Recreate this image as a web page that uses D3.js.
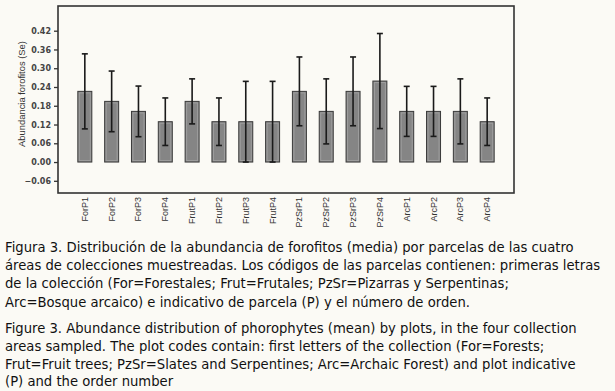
<!DOCTYPE html>
<html>
<head>
<meta charset="utf-8">
<script src="https://cdn.jsdelivr.net/npm/d3@7"></script>
<style>
  html, body { margin: 0; padding: 0; background: #fbfaf5; }
  svg { display: block; }
</style>
</head>
<body>
<svg id="chart" width="615" height="391"></svg>
<script>
// Plot codes along the x axis
const plots = ["ForP1", "ForP2", "ForP3", "ForP4",
               "FrutP1", "FrutP2", "FrutP3", "FrutP4",
               "PzSrP1", "PzSrP2", "PzSrP3", "PzSrP4",
               "ArcP1", "ArcP2", "ArcP3", "ArcP4"];
// mean abundance per plot
const means = [0.226, 0.194, 0.162, 0.129,
               0.194, 0.129, 0.129, 0.129,
               0.226, 0.162, 0.226, 0.259,
               0.162, 0.162, 0.162, 0.129];
// error bar half-length (Se)
const se = [0.120, 0.097, 0.081, 0.076,
            0.072, 0.076, 0.129, 0.129,
            0.110, 0.104, 0.110, 0.152,
            0.080, 0.080, 0.104, 0.076];
const yTicks = [-0.06, 0, 0.06, 0.12, 0.18, 0.24, 0.30, 0.36, 0.42];

const captionEs = [
  "Figura 3. Distribución de la abundancia de forofitos (media) por parcelas de las cuatro",
  "áreas de colecciones muestreadas. Los códigos de las parcelas contienen: primeras letras",
  "de la colección (For=Forestales; Frut=Frutales; PzSr=Pizarras y Serpentinas;",
  "Arc=Bosque arcaico) e indicativo de parcela (P) y el número de orden."
];
const captionEn = [
  "Figure 3. Abundance distribution of phorophytes (mean) by plots, in the four collection",
  "areas sampled. The plot codes contain: first letters of the collection (For=Forests;",
  "Frut=Fruit trees; PzSr=Slates and Serpentines; Arc=Archaic Forest) and plot indicative",
  "(P) and the order number"
];

const svg = d3.select("#chart");
const box = {left: 58, top: 6, right: 514, bottom: 193};

const x = d3.scalePoint()
    .domain(plots)
    .range([box.left, box.right])
    .padding(1);
const y = d3.scaleLinear()
    .domain([-0.099, 0.499])
    .range([box.bottom, box.top]);

const barW = 14;
const data = plots.map((p, i) => ({plot: p, mean: means[i], se: se[i]}));

// bars
const bars = svg.append("g").selectAll("g")
    .data(data)
    .enter().append("g");

bars.append("rect")
    .attr("x", d => x(d.plot) - barW / 2)
    .attr("y", d => y(d.mean))
    .attr("width", barW)
    .attr("height", d => y(0) - y(d.mean))
    .attr("fill", "#858585")
    .attr("stroke", "#3a3a3a")
    .attr("stroke-width", 1);

// light inner edge
bars.append("rect")
    .attr("x", d => x(d.plot) - barW / 2 + 1.5)
    .attr("y", d => y(d.mean) + 1.5)
    .attr("width", barW - 3)
    .attr("height", d => y(0) - y(d.mean) - 3)
    .attr("fill", "none")
    .attr("stroke", "#9e9e9e")
    .attr("stroke-width", 1);

// error bars
const err = svg.append("g")
    .attr("stroke", "#1a1a1a")
    .attr("stroke-width", 1.6);
err.selectAll(".stem")
    .data(data)
    .enter().append("line")
    .attr("x1", d => x(d.plot)).attr("x2", d => x(d.plot))
    .attr("y1", d => y(d.mean + d.se))
    .attr("y2", d => y(Math.max(0, d.mean - d.se)));
err.selectAll(".capT")
    .data(data)
    .enter().append("line")
    .attr("x1", d => x(d.plot) - 3).attr("x2", d => x(d.plot) + 3)
    .attr("y1", d => y(d.mean + d.se)).attr("y2", d => y(d.mean + d.se));
err.selectAll(".capB")
    .data(data)
    .enter().append("line")
    .attr("x1", d => x(d.plot) - 3).attr("x2", d => x(d.plot) + 3)
    .attr("y1", d => y(Math.max(0, d.mean - d.se)))
    .attr("y2", d => y(Math.max(0, d.mean - d.se)));

// frame
svg.append("rect")
    .attr("x", box.left).attr("y", box.top)
    .attr("width", box.right - box.left)
    .attr("height", box.bottom - box.top)
    .attr("fill", "none")
    .attr("stroke", "#333")
    .attr("stroke-width", 1.6);

// y axis
const yAxis = svg.append("g")
    .attr("transform", `translate(${box.left},0)`)
    .call(d3.axisLeft(y).tickValues(yTicks).tickSize(4).tickPadding(3)
        .tickFormat(d3.format(".2f")));
yAxis.select(".domain").remove();
yAxis.selectAll("line").attr("stroke", "#333").attr("stroke-width", 1.3);
yAxis.selectAll("text")
    .attr("font-family", "'DejaVu Sans', sans-serif")
    .attr("font-size", 8)
    .attr("font-weight", "bold")
    .attr("fill", "#444");

// x labels, rotated
svg.append("g").selectAll("text")
    .data(plots)
    .enter().append("text")
    .attr("transform", d => `translate(${x(d) + 3},${box.bottom + 4})rotate(-90)`)
    .attr("text-anchor", "end")
    .attr("font-family", "'Liberation Sans', Arial, sans-serif")
    .attr("font-size", 9)
    .attr("fill", "#333")
    .text(d => d);

// y label
svg.append("text")
    .attr("transform", `translate(${25},${94})rotate(-90)`)
    .attr("text-anchor", "middle")
    .attr("font-family", "'Liberation Sans', Arial, sans-serif")
    .attr("font-size", 9.4)
    .attr("fill", "#333")
    .text("Abundancia forofitos (Se)");

// captions
const capFont = "'DejaVu Sans', Verdana, sans-serif";
svg.append("g").selectAll("text")
    .data(captionEs)
    .enter().append("text")
    .attr("x", 5)
    .attr("y", (d, i) => 252 + i * 18.2)
    .attr("font-family", capFont)
    .attr("font-size", 13.2)
    .attr("fill", "#111")
    .text(d => d);
svg.append("g").selectAll("text")
    .data(captionEn)
    .enter().append("text")
    .attr("x", 5)
    .attr("y", (d, i) => 333 + i * 17.8)
    .attr("font-family", capFont)
    .attr("font-size", 13.2)
    .attr("fill", "#111")
    .text(d => d);
</script>
</body>
</html>
